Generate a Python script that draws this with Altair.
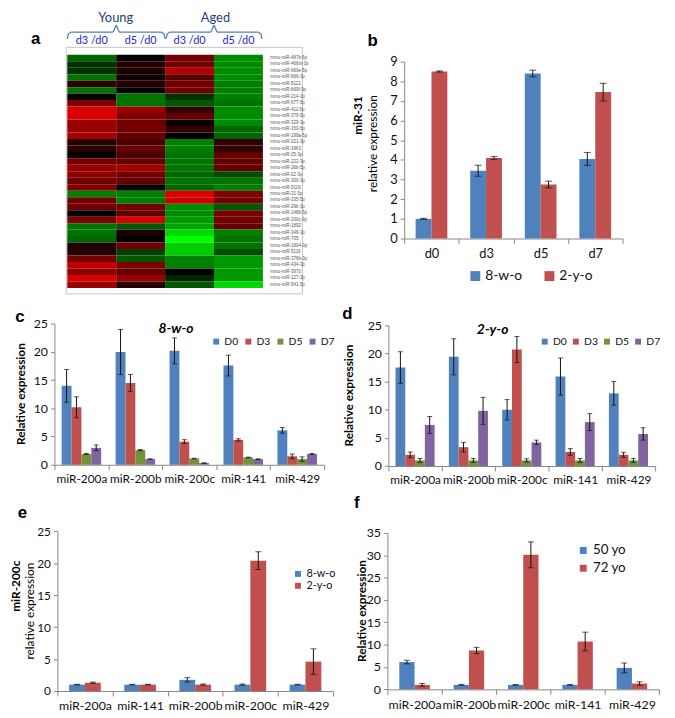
import altair as alt
import pandas as pd

W, H = 667, 710
FONT = "Lato"

# ---------------- data ----------------
hm_rows = ["mmu-miR-487b-5p", "mmu-miR-466m-3p", "mmu-miR-669e-5p", "mmu-miR-666-3p",
           "mmu-miR-5121", "mmu-miR-669f-5p", "mmu-miR-214-3p", "mmu-miR-677-5p",
           "mmu-miR-411-5p", "mmu-miR-379-5p", "mmu-miR-329-3p", "mmu-miR-150-5p",
           "mmu-miR-199a-5p", "mmu-miR-221-3p", "mmu-miR-3963", "mmu-miR-25-3p",
           "mmu-miR-222-3p", "mmu-miR-26b-5p", "mmu-miR-22-3p", "mmu-miR-300-3p",
           "mmu-miR-5100", "mmu-miR-31-5p", "mmu-miR-335-5p", "mmu-miR-29b-3p",
           "mmu-miR-148b-5p", "mmu-miR-200c-3p", "mmu-miR-1892", "mmu-miR-346-3p",
           "mmu-miR-705", "mmu-miR-1894-3p", "mmu-miR-5119", "mmu-miR-376b-3p",
           "mmu-miR-434-3p", "mmu-miR-3970", "mmu-miR-127-3p", "mmu-miR-541-5p"]
hm_cols = ["Young|d3 /d0", "Young|d5 /d0", "Aged|d3 /d0", "Aged|d5 /d0"]
hm_young_d3 = [-0.4, -0.2, -0.2, -0.45, 0.2, -0.45, 0.0, 0.5, 0.85, 0.85, 0.6, 0.6,
               0.65, 0.15, 0.15, 0.02, 0.45, 0.6, 0.55, 0.45, 0.5, -0.5, 0.45, 0.45,
               0.0, 0.5, -0.45, -0.45, -0.4, 0.12, 0.15, 0.45, 0.75, 0.55, 0.85, 0.6]
hm_young_d5 = [0.0, 0.15, 0.1, 0.05, 0.15, 0.0, -0.45, -0.45, 0.6, 0.5, 0.45, 0.45,
               0.4, 0.3, 0.4, 0.3, 0.4, 0.65, 0.45, 0.4, 0.0, -0.5, -0.5, 0.45,
               0.4, 0.85, -0.35, 0.1, 0.0, 0.45, -0.25, -0.35, 0.5, 0.4, 0.6, 0.15]
hm_aged_d3 = [0.45, 0.45, 0.7, 0.35, 0.45, 0.45, -0.2, -0.35, 0.2, 0.4, 0.05, 0.2,
              0.0, -0.5, -0.5, -0.45, -0.45, -0.45, -0.4, -0.45, -0.4, 0.85, 0.8, -0.55,
              -0.55, -0.6, -0.65, -0.85, -1.0, -0.8, -0.8, -0.5, -0.5, 0.0, -0.15, -0.35]
hm_aged_d5 = [-0.55, -0.55, -0.55, -0.55, -0.5, -0.5, -0.5, -0.45, -0.55, -0.55, -0.55, -0.4,
              -0.4, 0.2, 0.2, 0.4, 0.4, 0.4, -0.3, -0.45, -0.5, 0.5, 0.45, -0.35,
              0.45, 0.45, 0.4, -0.5, -0.45, -0.45, -0.3, -0.6, -0.6, -0.6, -0.6, -0.85]

b_days = ["d0", "d3", "d5", "d7"]
b_groups = ["8-w-o", "2-y-o"]
b_8wo = [1.0, 3.45, 8.4, 4.05]
b_8wo_err = [0.03, 0.28, 0.17, 0.33]
b_2yo = [8.5, 4.1, 2.75, 7.45]
b_2yo_err = [0.03, 0.07, 0.17, 0.45]

cd_mirs = ["miR-200a", "miR-200b", "miR-200c", "miR-141", "miR-429"]
cd_days = ["D0", "D3", "D5", "D7"]
c_D0 = [14.0, 20.0, 20.2, 17.6, 6.1]
c_D0_err = [2.9, 4.0, 2.3, 1.85, 0.5]
c_D3 = [10.2, 14.5, 4.1, 4.4, 1.5]
c_D3_err = [1.85, 1.5, 0.35, 0.2, 0.4]
c_D5 = [1.9, 2.6, 1.1, 1.3, 1.0]
c_D5_err = [0.1, 0.1, 0.05, 0.05, 0.4]
c_D7 = [3.0, 1.0, 0.3, 1.0, 1.9]
c_D7_err = [0.5, 0.05, 0.05, 0.05, 0.1]

d_D0 = [17.5, 19.4, 10.0, 15.9, 12.9]
d_D0_err = [2.8, 3.2, 1.8, 3.3, 2.1]
d_D3 = [2.0, 3.35, 20.7, 2.5, 2.0]
d_D3_err = [0.5, 0.85, 2.3, 0.6, 0.45]
d_D5 = [1.0, 1.0, 1.0, 1.0, 1.0]
d_D5_err = [0.35, 0.35, 0.3, 0.35, 0.35]
d_D7 = [7.3, 9.8, 4.2, 7.8, 5.7]
d_D7_err = [1.5, 2.4, 0.4, 1.5, 1.1]

e_mirs = ["miR-200a", "miR-141", "miR-200b", "miR-200c", "miR-429"]
e_groups = ["8-w-o", "2-y-o"]
e_8wo = [1.0, 1.0, 1.75, 1.0, 1.0]
e_8wo_err = [0.05, 0.05, 0.35, 0.1, 0.05]
e_2yo = [1.3, 1.0, 1.0, 20.4, 4.6]
e_2yo_err = [0.1, 0.05, 0.1, 1.4, 2.0]

f_mirs = ["miR-200a", "miR-200b", "miR-200c", "miR-141", "miR-429"]
f_groups = ["50 yo", "72 yo"]
f_50 = [6.1, 1.0, 1.0, 1.0, 4.8]
f_50_err = [0.4, 0.05, 0.05, 0.05, 1.1]
f_72 = [1.0, 8.7, 30.1, 10.7, 1.3]
f_72_err = [0.3, 0.7, 2.9, 2.1, 0.4]

BLUE, RED, GREEN, PURPLE = "#4F81BD", "#C0504D", "#71933A", "#8064A2"
AXC = "#868686"
ONE = pd.DataFrame({"k": [0]})


def long_df(cats, groups, vals, errs):
    rows = []
    for g, vs, es in zip(groups, vals, errs):
        for c, v, e in zip(cats, vs, es):
            rows.append({"cat": c, "grp": g, "val": v, "lo": v - e, "hi": v + e})
    return pd.DataFrame(rows)


def txt(s, x, y, size, weight="normal", style="normal", color="#000000", angle=0,
        align="center", baseline="alphabetic", font=FONT):
    return alt.Chart(ONE).mark_text(
        text=s, fontSize=size, fontWeight=weight, fontStyle=style, color=color,
        angle=angle, align=align, baseline=baseline, font=font
    ).encode(x=alt.value(x), y=alt.value(y))


def seg(x1, y1, x2, y2, color="#4F81BD", width=1.3):
    return alt.Chart(ONE).mark_rule(color=color, strokeWidth=width).encode(
        x=alt.value(x1), y=alt.value(y1), x2=alt.value(x2), y2=alt.value(y2))


def bar_panel(df, cats, groups, colors, x0, x1, ybot, ytop, ymax, ystep,
              xlab, ylab, legend, cap, pad_outer=0.73):
    xs = alt.Scale(range=[x0, x1], paddingInner=0, paddingOuter=0)
    xax = alt.Axis(orient="bottom", offset=ybot - H, tickBand="extent", labelAngle=0,
                   labelFontSize=xlab, labelFont=FONT, labelColor="#111111",
                   tickSize=5, tickColor=AXC, domainColor=AXC, labelPadding=4,
                   title=None, grid=False)
    X = alt.X("cat:N", sort=cats, scale=xs, axis=xax)
    XO = alt.XOffset("grp:N", sort=groups,
                     scale=alt.Scale(paddingOuter=pad_outer, paddingInner=0))
    ys = alt.Scale(domain=[0, ymax], range=[ybot, ytop], nice=False)
    yax = alt.Axis(orient="left", offset=-x0, values=list(range(0, ymax + 1, ystep)),
                   tickSize=4, tickColor=AXC, domainColor=AXC, labelPadding=3,
                   labelFontSize=ylab, labelFont=FONT, labelColor="#111111",
                   grid=False, title=None)
    base = alt.Chart(df)
    bars = base.mark_bar().encode(
        x=X, xOffset=XO, y=alt.Y("val:Q", scale=ys, axis=yax),
        color=alt.Color("grp:N", sort=groups,
                        scale=alt.Scale(domain=groups, range=colors), legend=legend))
    err = base.mark_rule(color="#111111", strokeWidth=1).encode(
        x=X, xOffset=XO, y=alt.Y("lo:Q", scale=ys, axis=yax), y2="hi:Q")
    cap_lo = base.mark_tick(color="#111111", thickness=1, size=cap).encode(
        x=X, xOffset=XO, y=alt.Y("lo:Q", scale=ys, axis=yax))
    cap_hi = base.mark_tick(color="#111111", thickness=1, size=cap).encode(
        x=X, xOffset=XO, y=alt.Y("hi:Q", scale=ys, axis=yax))
    return alt.layer(bars, err, cap_lo, cap_hi)


def legend(x, y, direction, size, sym, colpad=10, rowpad=0, offset=3):
    return alt.Legend(orient="none", legendX=x, legendY=y, direction=direction,
                      title=None, symbolType="square", symbolSize=sym,
                      symbolStrokeWidth=0, labelFontSize=size, labelFont=FONT,
                      labelColor="#111111", labelOffset=offset, columnPadding=colpad,
                      rowPadding=rowpad, padding=0)


# ---------------- panel a: heatmap ----------------
hm_vals = [hm_young_d3, hm_young_d5, hm_aged_d3, hm_aged_d5]
hm_df = pd.DataFrame([{"row": r, "col": c, "v": v}
                      for c, vs in zip(hm_cols, hm_vals)
                      for r, v in zip(hm_rows, vs)])
heat = alt.Chart(hm_df).mark_rect().encode(
    x=alt.X("col:N", sort=hm_cols,
            scale=alt.Scale(range=[60, 258], paddingInner=0, paddingOuter=0),
            axis=alt.Axis(orient="top", offset=-43, labelExpr="split(datum.value, '|')[1]",
                          ticks=False, domain=False, labelColor="#2424d0",
                          labelFontSize=11, labelFont=FONT, labelPadding=9,
                          labelAngle=0, title=None, grid=False)),
    y=alt.Y("row:N", sort=hm_rows,
            scale=alt.Scale(range=[43, 279], paddingInner=0, paddingOuter=0),
            axis=alt.Axis(orient="right", offset=-409, ticks=False, domain=False,
                          labelFontSize=4.5, labelColor="#555555", labelPadding=7,
                          labelOverlap=False, title=None, grid=False)),
    color=alt.Color("v:Q", scale=alt.Scale(domain=[-1, 0, 1],
                                          range=["#00ff00", "#000000", "#ff0000"],
                                          interpolate="rgb"), legend=None),
)
box = alt.Chart(ONE).mark_rect(fillOpacity=0, stroke="#c4c4c4", strokeWidth=1).encode(
    x=alt.value(59), x2=alt.value(298), y=alt.value(35.5), y2=alt.value(285))


def brace(x0, x1):
    xc = (x0 + x1) / 2
    return [seg(x0, 27, x0 + 1, 22), seg(x0 + 1, 22, x0 + 4, 20), seg(x0 + 4, 20, xc - 3, 20),
            seg(xc - 3, 20, xc, 13), seg(xc, 13, xc + 3, 20), seg(xc + 3, 20, x1 - 4, 20),
            seg(x1 - 4, 20, x1 - 1, 22), seg(x1 - 1, 22, x1, 27)]


# ---------------- bar panels ----------------
b_df = long_df(b_days, b_groups, [b_8wo, b_2yo], [b_8wo_err, b_2yo_err])
c_df = long_df(cd_mirs, cd_days, [c_D0, c_D3, c_D5, c_D7], [c_D0_err, c_D3_err, c_D5_err, c_D7_err])
d_df = long_df(cd_mirs, cd_days, [d_D0, d_D3, d_D5, d_D7], [d_D0_err, d_D3_err, d_D5_err, d_D7_err])
e_df = long_df(e_mirs, e_groups, [e_8wo, e_2yo], [e_8wo_err, e_2yo_err])
f_df = long_df(f_mirs, f_groups, [f_50, f_72], [f_50_err, f_72_err])

pb = bar_panel(b_df, b_days, b_groups, [BLUE, RED], 401, 622, 229, 50, 9, 1, 13, 13,
               legend(466, 260, "horizontal", 14, 100, colpad=20), cap=7, pad_outer=0.72)
pc = bar_panel(c_df, cd_mirs, cd_days, [BLUE, RED, GREEN, PURPLE], 47, 320, 458, 315.3, 25, 5,
               12, 12.5, legend(205.5, 328, "horizontal", 10.5, 36, colpad=4.5), cap=5)
pd_ = bar_panel(d_df, cd_mirs, cd_days, [BLUE, RED, GREEN, PURPLE], 385, 655, 459.3, 316.8, 25, 5,
                12, 12.5, legend(538, 328, "horizontal", 10.5, 36, colpad=3.5), cap=5)
pe = bar_panel(e_df, e_mirs, e_groups, [BLUE, RED], 50, 329, 687, 525.3, 25, 5, 12.5, 12,
               legend(288, 563, "vertical", 11, 36, rowpad=0), cap=6, pad_outer=0.74)
pf = bar_panel(f_df, f_mirs, f_groups, [BLUE, RED], 384, 659, 685.3, 527, 35, 5, 12.5, 12.5,
               legend(575.5, 538, "vertical", 13.5, 49, rowpad=3), cap=6, pad_outer=0.78)

LBL = "Liberation Sans"
texts = [
    txt("a", 28, 32, 17, weight="bold", font=LBL),
    txt("b", 369, 34, 17, weight="bold", font=LBL),
    txt("c", 12, 314, 17, weight="bold", font=LBL),
    txt("d", 343.5, 310, 17, weight="bold", font=LBL),
    txt("e", 14.5, 512, 17, weight="bold", font=LBL),
    txt("f", 353, 502, 17, weight="bold", font=LBL),
    txt("Young", 109, 10, 13, color="#1f3f78"),
    txt("Aged", 210, 10, 13, color="#1f3f78"),
    txt("8-w-o", 170, 325, 14, weight="bold", style="italic"),
    txt("2-y-o", 490.5, 326, 14, weight="bold", style="italic"),
    txt("miR-31", 354, 85, 12, weight="bold", angle=270, align="right", baseline="middle"),
    txt("relative expression", 369, 84, 12, angle=270, align="right", baseline="middle"),
    txt("Relative expression", 13, 386.5, 12, weight="bold", angle=270, baseline="middle"),
    txt("Relative expression", 345, 388, 12, weight="bold", angle=270, baseline="middle"),
    txt("miR-200c", 8, 555, 12, weight="bold", angle=270, align="right", baseline="middle"),
    txt("relative expression", 22, 557, 12, angle=270, align="right", baseline="middle"),
    txt("Relative expression", 358, 606, 12, weight="bold", angle=270, baseline="middle"),
]

layers = [heat, box] + brace(60, 159) + brace(160, 257) + [pb, pc, pd_, pe, pf] + texts

chart = alt.layer(*layers).resolve_scale(
    x="independent", y="independent", color="independent", xOffset="independent"
).resolve_axis(x="independent", y="independent").resolve_legend(
    color="independent"
).properties(
    width=W, height=H, autosize="none", padding=0
).configure_view(strokeWidth=0)

chart.save("out.html", embed_options={"renderer": "svg", "actions": False})
